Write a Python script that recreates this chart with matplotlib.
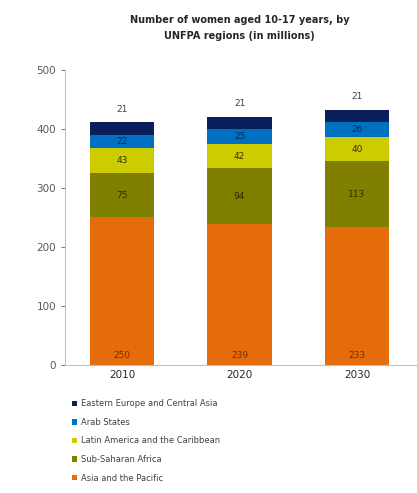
import numpy as np
import matplotlib.pyplot as plt

years = ['2010', '2020', '2030']
regions = ['Asia and the Pacific', 'Sub-Saharan Africa', 'Latin America and the Caribbean',
           'Arab States', 'Eastern Europe and Central Asia']
asia_pacific = [250, 239, 233]
sub_saharan = [75, 94, 113]
latin_america = [43, 42, 40]
arab_states = [22, 25, 26]
eastern_europe = [21, 21, 21]

colors = ['#E46C0A', '#7F7F00', '#CCCC00', '#0070C0', '#0A1F5C']
label_colors = ['#7A2E00', '#2B2B00', '#333300', '#0A2A50', None]


def main():
    fig = plt.figure(figsize=(4.17, 4.93), dpi=100)
    ax = fig.add_axes([0.156, 0.26, 0.844, 0.598])

    series = [asia_pacific, sub_saharan, latin_america, arab_states, eastern_europe]
    x = np.arange(len(years))
    bottom = np.zeros(len(years))
    handles = []
    for i, vals in enumerate(series):
        vals = np.array(vals, dtype=float)
        h = ax.bar(x, vals, 0.55, bottom=bottom, color=colors[i], label=regions[i])
        handles.append(h)
        for j in range(len(x)):
            if i == 0:
                y = bottom[j] + 15
                c = label_colors[i]
            elif i == len(series) - 1:
                y = bottom[j] + vals[j] + 22
                c = '#404040'
            else:
                y = bottom[j] + vals[j] / 2
                c = label_colors[i]
            ax.text(x[j], y, str(int(vals[j])), ha='center', va='center',
                    fontsize=6.5, color=c)
        bottom += vals

    ax.set_xlim(-0.485, 2.51)
    ax.set_ylim(0, 500)
    ax.set_yticks(range(0, 501, 100))
    ax.set_xticks(x)
    ax.set_xticklabels(years)
    ax.tick_params(axis='y', labelsize=7.5, colors='#595959', length=3, width=0.6)
    ax.tick_params(axis='x', labelsize=7.5, labelcolor='#262626', length=0)
    for s in ['top', 'right']:
        ax.spines[s].set_visible(False)
    for s in ['left', 'bottom']:
        ax.spines[s].set_color('#BFBFBF')
        ax.spines[s].set_linewidth(0.8)

    fig.text(0.575, 0.943, 'Number of women aged 10-17 years, by\nUNFPA regions (in millions)',
             ha='center', va='center', fontsize=7, fontweight='bold', color='#262626',
             linespacing=1.75)

    leg = fig.legend(handles[::-1], regions[::-1], loc='upper left',
                     bbox_to_anchor=(0.172, 0.19), frameon=False, fontsize=6,
                     handlelength=0.6, handleheight=0.6, handletextpad=0.5,
                     labelspacing=1.15, borderaxespad=0, borderpad=0)
    for t in leg.get_texts():
        t.set_color('#404040')

    fig.savefig('out.png', dpi=100)


if __name__ == '__main__':
    main()
